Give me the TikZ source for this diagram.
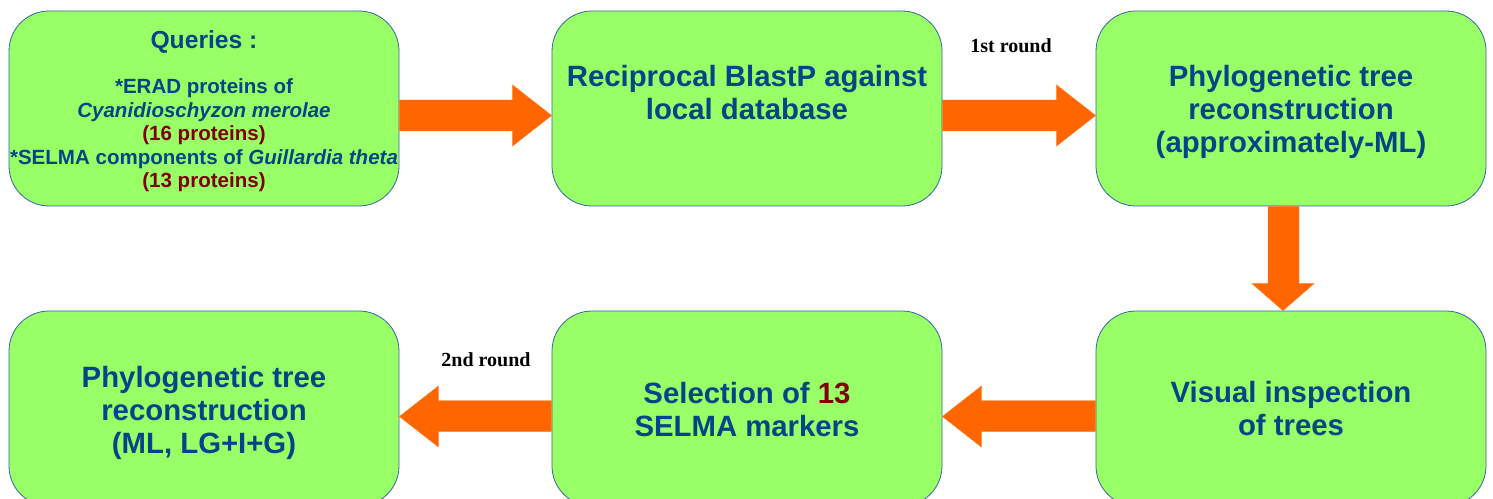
\documentclass[tikz,border=0pt]{standalone}
\usepackage{fontspec}
\setmainfont{Liberation Sans}
\newfontfamily\serifbold{Liberation Serif}
\usetikzlibrary{calc}
\definecolor{boxgreen}{RGB}{153,255,102}
\definecolor{boxline}{RGB}{52,101,164}
\definecolor{txtblue}{RGB}{0,69,134}
\definecolor{txtred}{RGB}{128,0,0}
\definecolor{arrorange}{RGB}{255,102,0}
\tikzset{
 box/.style={draw=boxline, line width=0.6pt, fill=boxgreen, rounded corners=30pt, minimum width=292.5pt, minimum height=146.25pt, inner sep=0pt},
 big/.style={text=txtblue, font=\fontsize{22}{24.75}\selectfont\bfseries, align=center, inner sep=0pt},
 small/.style={text=txtblue, font=\fontsize{15.4}{17.6}\selectfont\bfseries, align=center, inner sep=0pt},
 arr/.style={fill=arrorange, draw=arrorange!85!white, line width=0.3pt},
 lbl/.style={font=\serifbold\fontsize{15}{18}\selectfont\bfseries, inner sep=0pt}
}
\begin{document}
\begin{tikzpicture}[x=0.75pt,y=-0.75pt]
\useasboundingbox (0,0) rectangle (1493,499);
\clip (0,0) rectangle (1493,499);
% boxes
\node[box] (b1) at (204,108.5) {};
\node[box] (b2) at (747,108.5) {};
\node[box] (b3) at (1291,108.5) {};
\node[box] (b4) at (204,408.5) {};
\node[box] (b5) at (747,408.5) {};
\node[box] (b6) at (1291,408.5) {};
% texts
\node[small, font=\fontsize{18.5}{20}\selectfont\bfseries] (t1a) at (204,42) {Queries :};
\node[small] (t1b) at (204,135.5) {*ERAD proteins of\\ \textit{Cyanidioschyzon merolae}\\ \textcolor{txtred}{(16 proteins)}\\ *SELMA components of \textit{Guillardia theta}\\ \textcolor{txtred}{(13 proteins)}};
\node[big] (t2) at (747,93) {Reciprocal BlastP against\\ local database};
\node[big] (t3) at (1291,112) {Phylogenetic tree\\ reconstruction\\ (approximately-ML)};
\node[big] (t4) at (204,413) {Phylogenetic tree\\ reconstruction\\ (ML, LG+I+G)};
\node[big] (t5) at (747,409.5) {Selection of \textcolor{txtred}{13}\\ SELMA markers};
\node[big] (t6) at (1291,409) {Visual inspection\\ of trees};
% labels
\node[lbl] (r1) at (1011,46) {1st round};
\node[lbl] (r2) at (486,360) {2nd round};
% arrows
\fill[arr] ($(b1.east)+(0,-8.5)$) -- ($(b2.west)+(-39,-8.5)$) -- ($(b2.west)+(-39,-23.5)$) -- ($(b2.west)+(0,7)$) -- ($(b2.west)+(-39,37.5)$) -- ($(b2.west)+(-39,22.5)$) -- ($(b1.east)+(0,22.5)$) -- cycle;
\fill[arr] ($(b2.east)+(0,-8.5)$) -- ($(b3.west)+(-39,-8.5)$) -- ($(b3.west)+(-39,-23.5)$) -- ($(b3.west)+(0,7)$) -- ($(b3.west)+(-39,37.5)$) -- ($(b3.west)+(-39,22.5)$) -- ($(b2.east)+(0,22.5)$) -- cycle;
\fill[arr] ($(b3.south)+(-23,0)$) -- ($(b6.north)+(-23,-27)$) -- ($(b6.north)+(-39,-27)$) -- ($(b6.north)+(-8,0)$) -- ($(b6.north)+(23,-27)$) -- ($(b6.north)+(8,-27)$) -- ($(b3.south)+(8,0)$) -- cycle;
\fill[arr] ($(b6.west)+(0,-8)$) -- ($(b5.east)+(39,-8)$) -- ($(b5.east)+(39,-22.5)$) -- ($(b5.east)+(0,8)$) -- ($(b5.east)+(39,38.5)$) -- ($(b5.east)+(39,23)$) -- ($(b6.west)+(0,23)$) -- cycle;
\fill[arr] ($(b5.west)+(0,-8)$) -- ($(b4.east)+(39,-8)$) -- ($(b4.east)+(39,-22.5)$) -- ($(b4.east)+(0,8)$) -- ($(b4.east)+(39,38.5)$) -- ($(b4.east)+(39,23)$) -- ($(b5.west)+(0,23)$) -- cycle;
\end{tikzpicture}
\end{document}
